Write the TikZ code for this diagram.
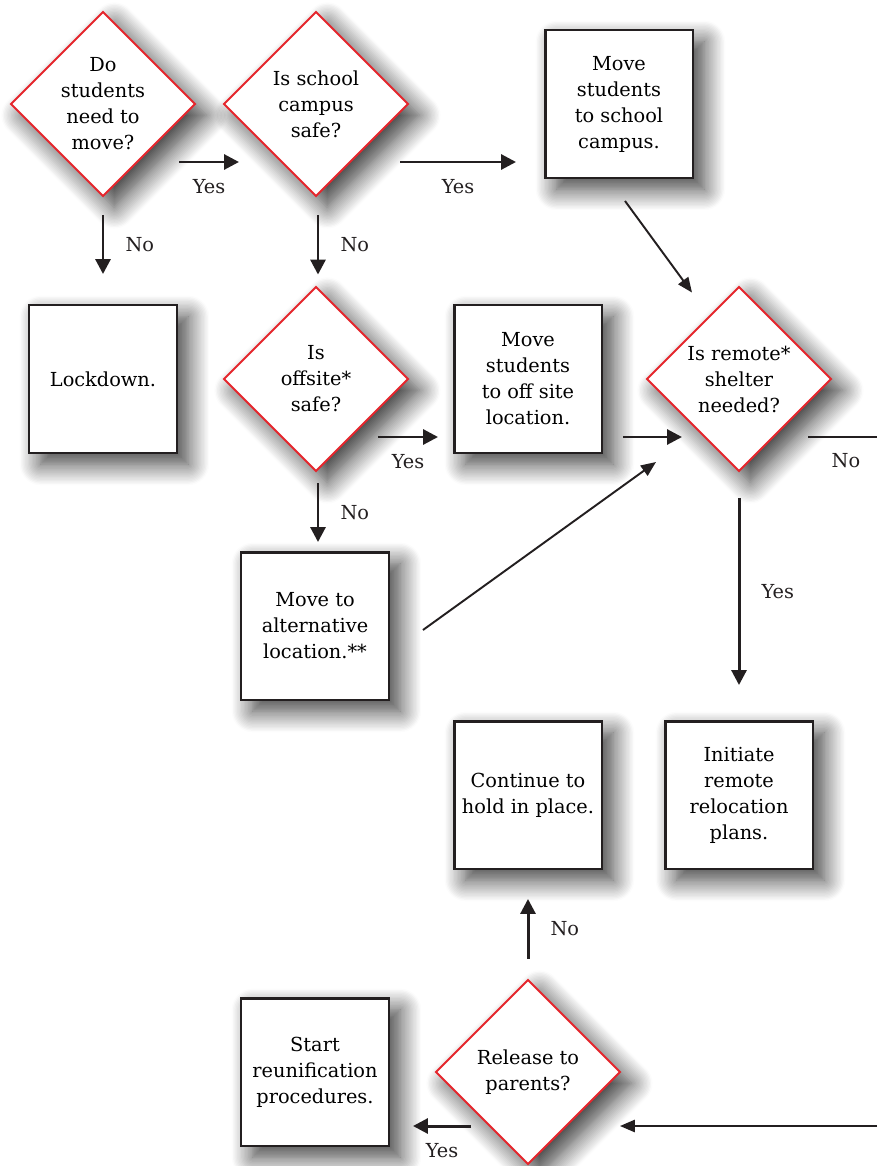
\documentclass[tikz,border=0pt]{standalone}
\usepackage{fontspec}
\setmainfont{DejaVu Serif}
\usetikzlibrary{shapes.geometric,arrows.meta,calc,shadows.blur}
\definecolor{askred}{HTML}{E5262D}
\definecolor{inkblack}{HTML}{231F20}
\begin{document}
\begin{tikzpicture}[x=0.02cm,y=-0.02cm,
    font=\fontsize{11}{14.8}\selectfont,
    shade/.style={blur shadow={shadow xshift=6.5pt,shadow yshift=-6.5pt,shadow blur radius=12pt,shadow blur steps=16,shadow opacity=78}},
    question/.style={diamond,shade,draw=askred,line width=1.1pt,fill=white,minimum width=3.7cm,minimum height=3.7cm,inner sep=0pt,align=center},
    action/.style={rectangle,shade,draw=inkblack,line width=1.4pt,fill=white,minimum size=2.95cm,inner sep=2pt,align=center},
    arr/.style={draw=inkblack,line width=1.7pt,-{Triangle[length=8.5pt,width=8.5pt]}},
    longarr/.style={draw=inkblack,line width=1.1pt,-{Triangle[length=8.5pt,width=7pt]}},
    lbl/.style={inner sep=2pt,text=inkblack}]
    \useasboundingbox (0,0) rectangle (877,1166);

    % questions
    \node[question] (qMove) at (103,104) {Do\\students\\need to\\move?};
    \node[question] (qCampus) at (316,104) {Is school\\campus\\safe?};
    \node[question] (qOffsite) at (316,379) {Is\\offsite*\\safe?};
    \node[question] (qRemote) at (739,379) {Is remote*\\shelter\\needed?};
    \node[question] (qRelease) at (528,1072) {Release to\\parents?};

    % actions
    \node[action] (aCampus) at (619,104) {Move\\students\\to school\\campus.};
    \node[action] (aLock) at (103,379) {Lockdown.};
    \node[action] (aOffsite) at (528,379) {Move\\students\\to off site\\location.};
    \node[action] (aAlt) at (315,626) {Move to\\alternative\\location.**};
    \node[action] (aHold) at (528,795) {Continue to\\hold in place.};
    \node[action] (aInit) at (739,795) {Initiate\\remote\\relocation\\plans.};
    \node[action] (aStart) at (315,1072) {Start\\reunification\\procedures.};

    % loose ends at the right edge
    \coordinate (edgeTop) at (877,437);
    \coordinate (edgeBot) at (877,1126);

    % connectors
    \draw[arr] ($(qMove.center)+(76,58)$) -- ($(qCampus.center)+(-77,58)$)
        node[lbl,midway,below=7pt] {Yes};
    \draw[arr] ($(qCampus.center)+(84,58)$) -- ($(aCampus.west)+(-28,58)$)
        node[lbl,midway,below=7pt] {Yes};
    \draw[arr] ($(qMove.south)+(0,18)$) -- ($(aLock.north)+(0,-30)$)
        node[lbl,midway,right=10pt] {No};
    \draw[arr] ($(qCampus.south)+(2,18)$) -- ($(qOffsite.north)+(2,-11)$)
        node[lbl,midway,right=10pt] {No};
    \draw[arr] ($(qOffsite.center)+(62,58)$) -- ($(aOffsite.west)+(-15,58)$)
        node[lbl,midway,below=7pt] {Yes};
    \draw[arr] ($(qOffsite.south)+(2,11)$) -- ($(aAlt.north)+(3,-9)$)
        node[lbl,midway,right=10pt] {No};
    \draw[longarr] ($(aCampus.south)+(6,22)$) -- ($(qRemote.north)+(-47,7)$);
    \draw[arr] ($(aOffsite.east)+(20,58)$) -- ($(qRemote.center)+(-57,58)$);
    \draw[longarr] ($(aAlt.east)+(33,4)$) -- ($(qRemote.center)+(-83,83)$);
    \draw[draw=inkblack,line width=1.1pt] ($(qRemote.center)+(69,58)$) -- (edgeTop)
        node[lbl,pos=0.55,below=7pt] {No};
    \draw[arr] ($(qRemote.south)+(0,26)$) -- ($(aInit.north)+(0,-35)$)
        node[lbl,midway,right=10pt] {Yes};
    \draw[arr] ($(qRelease.north)+(0,-20)$) -- ($(aHold.south)+(0,29)$)
        node[lbl,midway,right=10pt] {No};
    \draw[arr] ($(qRelease.center)+(-57,54)$) -- ($(aStart.east)+(23,54)$)
        node[lbl,midway,below=7pt] {Yes};
    \draw[longarr] (edgeBot) -- ($(qRelease.center)+(92,54)$);
\end{tikzpicture}
\end{document}
